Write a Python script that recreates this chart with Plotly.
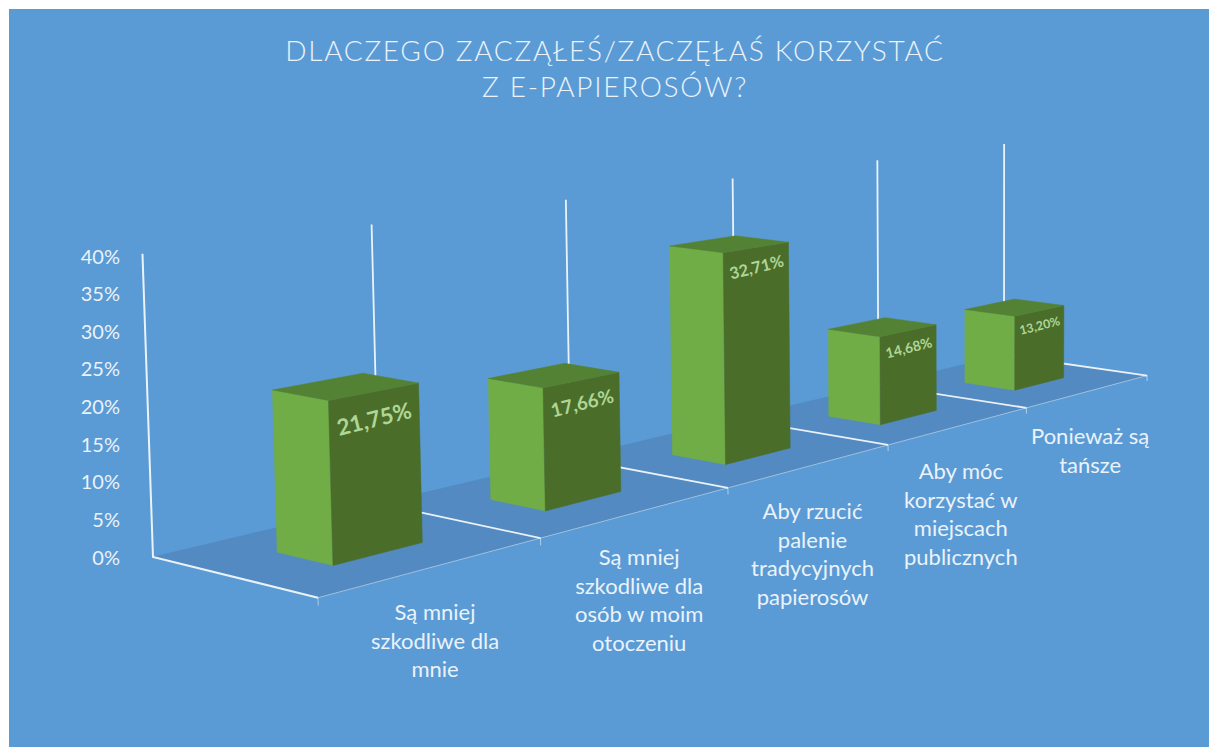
import numpy as np
import plotly.graph_objects as go

TITLE = "DLACZEGO ZACZĄŁEŚ/ZACZĘŁAŚ KORZYSTAĆ<br>Z E-PAPIEROSÓW?"
CATEGORIES = ["Są mniej<br>szkodliwe dla<br>mnie",
              "Są mniej<br>szkodliwe dla<br>osób w moim<br>otoczeniu",
              "Aby rzucić<br>palenie<br>tradycyjnych<br>papierosów",
              "Aby móc<br>korzystać w<br>miejscach<br>publicznych",
              "Ponieważ są<br>tańsze"]
VALUES = [21.75, 17.66, 32.71, 14.68, 13.20]
VALUE_LABELS = ["21,75%", "17,66%", "32,71%", "14,68%", "13,20%"]
TICK_VALUES = [0, 5, 10, 15, 20, 25, 30, 35, 40]
TICK_LABELS = ["0%", "5%", "10%", "15%", "20%", "25%", "30%", "35%", "40%"]

W, H = 1209, 747
BG = "#5B9BD5"; FLOOR = "#528AC1"
LIGHT = "#70AD47"; DARK = "#4A6E2A"; TOP = "#548235"
TXT = "#EAF2FA"; LABEL = "#B0D696"
FONT = "Lato"

# Camera of the chart's 3D box: world (category position, depth 0..1, percent)
# calibrated on the frame of the box only.
FRAME_WORLD = [(0,0,0),(1,0,0),(2,0,0),(3,0,0),(4,0,0),(5,0,0),
               (0,1,0),(5,1,0),
               (0,1,40),(1,1,40),(2,1,40),(3,1,40),(4,1,40),(5,1,40)]
FRAME_PIXEL = [(318,597),(541,538),(727,490),(888,443),(1027,408),(1147,376),
               (153,557),(1004,355),
               (142,254),(372,225),(566,199),(733,179),(877,160),(1004,144)]
A = []; b = []
for (X,Y,Z),(u,v) in zip(FRAME_WORLD, FRAME_PIXEL):
    A.append([X,Y,Z,1,0,0,0,0,-u*X,-u*Y,-u*Z]); b.append(u)
    A.append([0,0,0,0,X,Y,Z,1,-v*X,-v*Y,-v*Z]); b.append(v)
CAM = np.append(np.linalg.lstsq(np.array(A,float), np.array(b,float), rcond=None)[0], 1).reshape(3,4)

def proj(X, Y, Z):
    p = CAM @ np.array([X, Y, Z, 1.0])
    return p[0]/p[2], p[1]/p[2]

def poly(fig, pts, color):
    xy = [proj(*p) for p in pts]
    fig.add_trace(go.Scatter(x=[q[0] for q in xy]+[xy[0][0]], y=[q[1] for q in xy]+[xy[0][1]],
                             mode="lines", fill="toself", fillcolor=color,
                             line=dict(color=color, width=0.5), hoverinfo="skip"))

def seg(fig, pts, width=1.6, color="rgba(255,255,255,0.88)"):
    xy = [proj(*p) for p in pts]
    fig.add_trace(go.Scatter(x=[q[0] for q in xy], y=[q[1] for q in xy], mode="lines",
                             line=dict(color=color, width=width), hoverinfo="skip"))

fig = go.Figure()
N = len(VALUES)
# value axis tick labels
fig.add_trace(go.Scatter(x=[0]*len(TICK_VALUES), y=TICK_VALUES, yaxis="y2", mode="none", hoverinfo="skip"))
# floor
poly(fig, [(0,0,0),(N,0,0),(N,1,0),(0,1,0)], FLOOR)
# frame
seg(fig, [(0,0,0),(0,1,0),(0,1,40)], 2)
for i in range(1, N+1):
    seg(fig, [(i,0,0),(i,1,0),(i,1,40)], 1.8)
seg(fig, [(0,0,0),(N,0,0)], 1, "rgba(255,255,255,0.45)")
for i in range(N+1):
    seg(fig, [(i,0,0),(i,0,-1)], 1, "rgba(255,255,255,0.5)")

X0, X1 = 0.30, 0.70
Y0, Y1 = 0.33, 0.67
anns = []
for i in range(N-1, -1, -1):
    v = VALUES[i]
    a, c = i+X0, i+X1
    poly(fig, [(a,Y0,0),(a,Y1,0),(a,Y1,v),(a,Y0,v)], LIGHT)
    poly(fig, [(a,Y0,0),(c,Y0,0),(c,Y0,v),(a,Y0,v)], DARK)
    poly(fig, [(a,Y0,v),(c,Y0,v),(c,Y1,v),(a,Y1,v)], TOP)
    u0, _ = proj(a,Y0,v); u1, _ = proj(c,Y0,v)
    w = u1-u0
    mx, my = proj(i+0.5, Y0, v)
    anns.append(dict(x=mx, y=my+0.3*w, xref="x", yref="y", text=VALUE_LABELS[i], showarrow=False,
                     textangle=-14, xanchor="center", yanchor="middle",
                     font=dict(family=FONT, size=0.25*w, color=LABEL, weight=700)))
    fx, fy = proj(i+0.5, 0, 0)
    anns.append(dict(x=fx+1, y=fy+29, xref="x", yref="y", text=CATEGORIES[i], showarrow=False,
                     xanchor="center", yanchor="top", align="center",
                     font=dict(family=FONT, size=22, color=TXT)))

ZERO_PX, PER_PCT = 557.5, 7.525
fig.update_layout(
    width=W, height=H, showlegend=False,
    margin=dict(l=0, r=0, t=0, b=0),
    paper_bgcolor="white", plot_bgcolor="rgba(0,0,0,0)",
    title=dict(text=TITLE, x=615/W, xanchor="center", y=1-61/H, yanchor="top",
               font=dict(family=FONT, size=28, color=TXT, weight=300)),
    xaxis=dict(range=[0, W], visible=False, fixedrange=True),
    yaxis=dict(range=[H, 0], visible=False, fixedrange=True),
    yaxis2=dict(overlaying="y", anchor="free", position=120/W, side="left",
                range=[(ZERO_PX-H)/PER_PCT, ZERO_PX/PER_PCT],
                tickmode="array", tickvals=TICK_VALUES, ticktext=TICK_LABELS,
                showgrid=False, zeroline=False, showline=False, ticks="", fixedrange=True,
                tickfont=dict(family=FONT, size=20, color=TXT)),
    shapes=[dict(type="rect", xref="x", yref="y", x0=9, x1=W, y0=9, y1=H,
                 fillcolor=BG, line_width=0, layer="below")],
    annotations=anns,
)
POST = ("document.body.style.margin='0';"
        "document.querySelectorAll('.gtitle').forEach(function(t){t.style.letterSpacing='1.7px';});")
fig.write_html("out.html", post_script=POST, config=dict(displayModeBar=False))
